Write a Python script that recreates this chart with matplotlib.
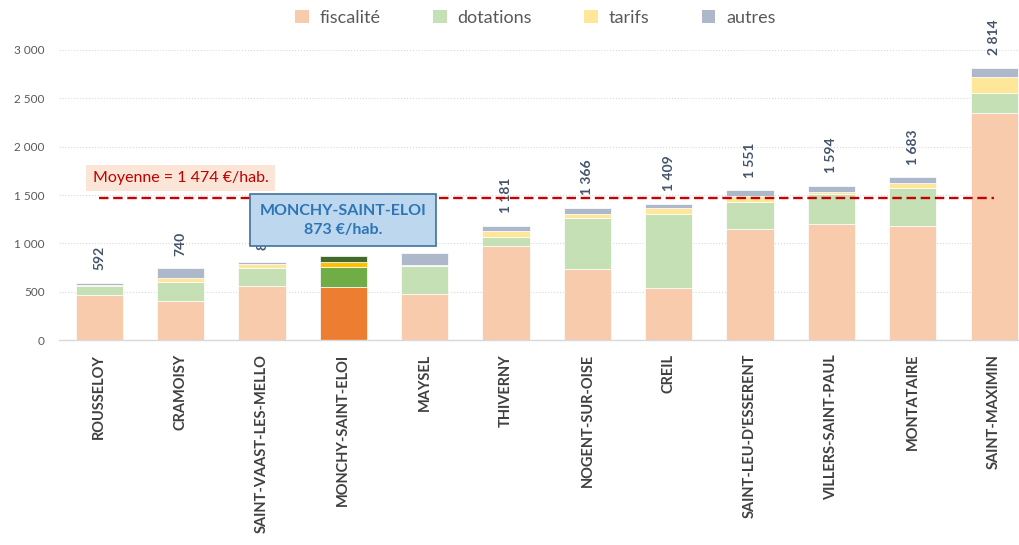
import matplotlib.pyplot as plt
import numpy as np
from matplotlib.patches import Patch

plt.rcParams['font.family'] = ['Lato', 'DejaVu Sans']

communes = ["ROUSSELOY", "CRAMOISY", "SAINT-VAAST-LES-MELLO", "MONCHY-SAINT-ELOI",
            "MAYSEL", "THIVERNY", "NOGENT-SUR-OISE", "CREIL", "SAINT-LEU-D'ESSERENT",
            "VILLERS-SAINT-PAUL", "MONTATAIRE", "SAINT-MAXIMIN"]
fiscalite = [465, 400, 557, 546, 481, 973, 732, 543, 1148, 1203, 1183, 2344]
dotations = [95, 195, 189, 210, 285, 89, 529, 759, 278, 309, 394, 213]
tarifs = [5, 50, 37, 48, 14, 62, 45, 59, 59, 14, 52, 165]
autres = [27, 95, 22, 69, 117, 57, 60, 48, 66, 68, 54, 92]
totaux = [592, 740, 805, 873, 897, 1181, 1366, 1409, 1551, 1594, 1683, 2814]
moyenne = 1474
focus = 3

couleurs = ["#F8CBAD", "#C5E0B4", "#FFE699", "#ADB9CA"]
couleurs_focus = ["#ED7D31", "#70AD47", "#FFC000", "#426A2B"]
noms = ["fiscalité", "dotations", "tarifs", "autres"]

fig = plt.figure(figsize=(10.2, 5.45), dpi=100)
ax = fig.add_axes([0.0575, 0.3761, 0.957, 0.5322])

x = np.arange(len(communes))
series = [fiscalite, dotations, tarifs, autres]
bas = np.zeros(len(communes))
for i, s in enumerate(series):
    cols = [couleurs_focus[i] if k == focus else couleurs[i] for k in range(len(communes))]
    ax.bar(x, s, 0.58, bottom=bas, color=cols, edgecolor="white", linewidth=0.5, zorder=2)
    bas += np.array(s)

# valeurs totales au-dessus des barres
for k, t in enumerate(totaux):
    if k == focus:
        continue
    txt = "{:,}".format(t).replace(",", " ")
    ax.annotate(txt, (x[k], bas[k]), xytext=(0, 9), textcoords="offset points",
                rotation=90, ha="center", va="bottom", fontsize=10, fontweight="bold",
                color="#44546A", zorder=3, annotation_clip=False)

# ligne de la moyenne
ax.plot([x[0], x[-1]], [moyenne, moyenne], color="#C80000", lw=1.7,
        linestyle=(0, (4, 2)), zorder=4)
ax.text(1.0, 1675, "Moyenne = 1 474 €/hab.", ha="center", va="center", fontsize=11.5,
        color="#C00000", zorder=5,
        bbox=dict(boxstyle="square,pad=0.4", fc="#FBE5D6", ec="none"))
ax.text(focus, 1237, "MONCHY-SAINT-ELOI\n873 €/hab.", ha="center", va="center",
        fontsize=11.5, fontweight="bold", color="#2E75B6", zorder=6, linespacing=1.45,
        bbox=dict(boxstyle="square,pad=0.6", fc="#BDD7EE", ec="#41719C", lw=1.2))

ax.set_xlim(-0.5, len(communes) - 0.5)
ax.set_ylim(0, 3000)
ax.set_yticks([0, 500, 1000, 1500, 2000, 2500, 3000])
ax.set_yticklabels(["0", "500", "1 000", "1 500", "2 000", "2 500", "3 000"])
ax.set_xticks(x)
ax.set_xticklabels(communes, rotation=90, fontsize=10.5, fontweight="bold", color="#404040")
ax.tick_params(axis="x", length=0, pad=10)
ax.tick_params(axis="y", length=0, labelsize=8.5, labelcolor="#595959", pad=10)
ax.yaxis.grid(True, color="#D9D9D9", linestyle=":", linewidth=0.8, zorder=0)
ax.set_axisbelow(True)
for sp in ["top", "right", "left"]:
    ax.spines[sp].set_visible(False)
ax.spines["bottom"].set_color("#D9D9D9")
ax.spines["bottom"].set_linewidth(1)

handles = [Patch(facecolor=c, edgecolor="none") for c in couleurs]
fig.legend(handles, noms, loc="center", bbox_to_anchor=(0.525, 0.967), ncol=4,
           frameon=False, fontsize=13, handlelength=0.75, handleheight=0.75,
           columnspacing=2.9, handletextpad=0.6, labelcolor="#595959")

fig.savefig("out.png", dpi=100)
